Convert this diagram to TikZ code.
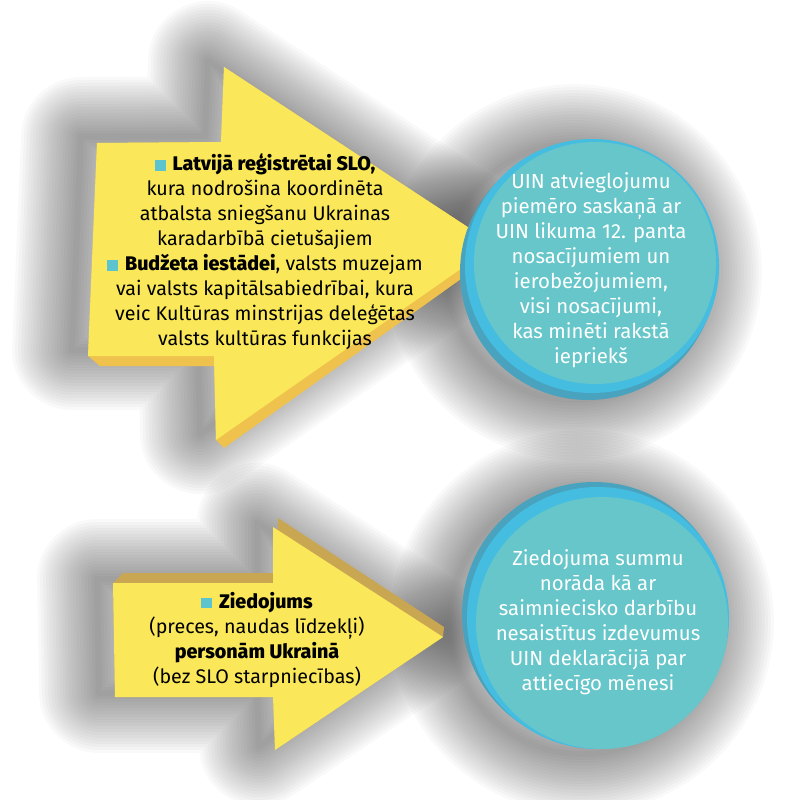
\documentclass[tikz,border=0pt]{standalone}
\usepackage{fontspec}
\setmainfont[BoldFont={Fira Sans ExtraBold}]{Fira Sans}

\definecolor{arrowface}{HTML}{FAE85A}
\definecolor{arrowside}{HTML}{EEC24C}
\definecolor{arrowtop}{HTML}{C9A651}
\definecolor{discface}{HTML}{66C6C9}
\definecolor{discrim}{HTML}{45BDE0}
\definecolor{discside}{HTML}{4AA3BE}
\definecolor{bulletsq}{HTML}{5BC4CF}

\newcommand{\sqbullet}{{\color{bulletsq}\rule{0.55em}{0.55em}}\hspace{0.35em}}

\tikzset{
  haze/.style={draw=black!80, draw opacity=0.028, line join=round},
  upperarrow/.style={insert path={(97,143) -- (221,142) -- (224,67)
      -- (495,245) -- (216,440) -- (214,356) -- (88,356) -- cycle}},
  lowerarrow/.style={insert path={(113,583) -- (273,583) -- (273,527)
      -- (443,637) -- (275,750) -- (273,697) -- (115,697) -- cycle}},
  arrowtext/.style={align=center, text=black,
      font=\fontsize{14}{17.8}\selectfont},
  disctext/.style={align=center, text=white,
      font=\fontsize{14.5}{17.8}\selectfont},
}

\begin{document}
\begin{tikzpicture}[x=0.025cm, y=-0.025cm, line join=round]
  \useasboundingbox (0,0) rectangle (800,800);
  \fill[white] (0,0) rectangle (800,800);

  % soft shadows
  \foreach \w in {6,12,...,120} {
    \path[haze, line width=\w*0.71pt, shift={(-16,-6)}, upperarrow];
    \path[haze, line width=\w*0.71pt, shift={(-16,-4)}, lowerarrow];
    \draw[haze, line width=\w*0.71pt] (574,272) circle (128);
    \draw[haze, line width=\w*0.71pt] (582,622) circle (132);
  }

  % upper arrow
  \fill[arrowside] (88,356) -- (100,366) -- (214,366) -- (216,440)
    -- (224,448) -- (496,254) -- (495,245) -- (224,67) -- (221,142)
    -- (97,143) -- cycle;
  \fill[arrowface, upperarrow];
  \node[arrowtext] (slo) at (265,252) {%
    \sqbullet\textbf{Latvijā reģistrētai SLO,}\\
    kura nodrošina koordinēta\\
    atbalsta sniegšanu Ukrainas\\
    karadarbībā cietušajiem\\
    \sqbullet\textbf{Budžeta iestādei}, valsts muzejam\\
    vai valsts kapitālsabiedrībai, kura\\
    veic Kultūras minstrijas deleģētas\\
    valsts kultūras funkcijas};

  % upper disc
  \fill[discside] (588,272) circle (128);
  \fill[discrim] (592,266) circle (127);
  \fill[discface] (595,263) circle (121);
  \node[disctext] (uin) at (591,270) {%
    UIN atvieglojumu\\
    piemēro saskaņā ar\\
    UIN likuma 12. panta\\
    nosacījumiem un\\
    ierobežojumiem,\\
    visi nosacījumi,\\
    kas minēti rakstā\\
    iepriekš};

  % lower arrow
  \fill[arrowtop] (113,583) -- (123,573) -- (276,573) -- (278,518)
    -- (444,627) -- (443,637) -- (275,750) -- (273,697) -- (115,697)
    -- cycle;
  \fill[arrowface, lowerarrow];
  \node[arrowtext] (dar) at (257,640) {%
    \sqbullet\textbf{Ziedojums}\\
    (preces, naudas līdzekļi)\\
    \textbf{personām Ukrainā}\\
    (bez SLO starpniecības)};

  % lower disc
  \fill[discside] (594,614) circle (132);
  \fill[discrim] (598,618) circle (131);
  \fill[discface] (602,623) circle (126);
  \node[disctext] (ziedo) at (598,622) {%
    Ziedojuma summu\\
    norāda kā ar\\
    saimniecisko darbību\\
    nesaistītus izdevumus\\
    UIN deklarācijā par\\
    attiecīgo mēnesi};
\end{tikzpicture}
\end{document}
